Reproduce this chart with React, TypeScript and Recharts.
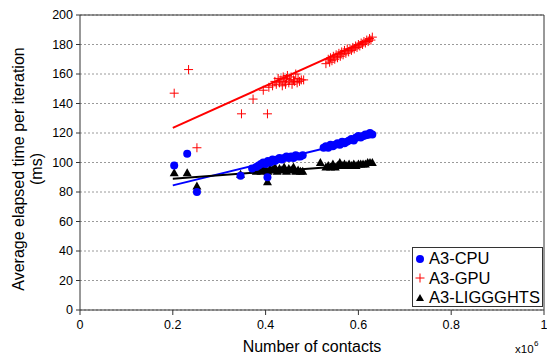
import React from "react"
import {
  ComposedChart,
  Scatter,
  Line,
  XAxis,
  YAxis,
  CartesianGrid,
  ReferenceLine,
} from "recharts"

const X_TICKS = [0, 0.2, 0.4, 0.6, 0.8, 1]
const Y_TICKS = [0, 20, 40, 60, 80, 100, 120, 140, 160, 180, 200]

// contacts (x10^6) vs elapsed time (ms)
const cpuPoints: [number, number][] = [
  [0.203, 98], [0.231, 106], [0.252, 80], [0.346, 91], [0.371, 96], [0.404, 90],
  [0.38, 97], [0.385, 98], [0.39, 99], [0.395, 100], [0.4, 99], [0.405, 101], [0.41, 100],
  [0.415, 102], [0.42, 101], [0.425, 102], [0.43, 103], [0.435, 102], [0.44, 103], [0.445, 104],
  [0.45, 103], [0.455, 104], [0.46, 103], [0.465, 105], [0.47, 104], [0.475, 104], [0.48, 105],
  [0.525, 110], [0.53, 111], [0.535, 110], [0.54, 112], [0.545, 111], [0.55, 112], [0.555, 113],
  [0.56, 112], [0.565, 114], [0.57, 113], [0.575, 114], [0.58, 115], [0.585, 116], [0.59, 115],
  [0.595, 117], [0.6, 118], [0.605, 117], [0.61, 118], [0.615, 119], [0.62, 119], [0.625, 120],
  [0.63, 119],
]

const gpuPoints: [number, number][] = [
  [0.203, 147], [0.234, 163], [0.252, 110], [0.348, 133], [0.373, 143], [0.395, 149],
  [0.404, 133], [0.407, 151],
  [0.415, 152], [0.42, 155], [0.423, 153], [0.427, 157], [0.43, 154], [0.433, 156], [0.436, 152],
  [0.438, 158], [0.44, 155], [0.443, 153], [0.445, 157], [0.447, 159], [0.45, 154], [0.452, 156],
  [0.455, 158], [0.457, 153], [0.46, 156], [0.462, 155], [0.465, 160], [0.468, 154], [0.47, 157],
  [0.473, 155], [0.477, 156], [0.482, 156],
  [0.53, 167], [0.535, 170], [0.538, 168], [0.54, 171], [0.543, 169], [0.546, 172], [0.549, 170],
  [0.552, 173], [0.555, 171], [0.558, 174], [0.561, 172], [0.564, 175], [0.567, 173], [0.57, 176],
  [0.573, 174], [0.576, 177], [0.579, 175], [0.582, 177], [0.585, 176], [0.588, 178], [0.591, 177],
  [0.594, 179], [0.597, 178], [0.6, 180], [0.603, 179], [0.606, 181], [0.609, 180], [0.612, 182],
  [0.615, 181], [0.618, 183], [0.621, 182], [0.624, 184], [0.627, 183], [0.63, 185],
]

const ligPoints: [number, number][] = [
  [0.203, 93], [0.231, 93], [0.252, 84], [0.346, 92], [0.373, 95], [0.404, 87],
  [0.38, 94], [0.385, 96], [0.39, 94], [0.395, 97], [0.4, 95], [0.405, 94], [0.41, 96],
  [0.415, 95], [0.42, 97], [0.425, 94], [0.43, 96], [0.435, 95], [0.44, 97], [0.445, 94],
  [0.45, 96], [0.455, 95], [0.46, 97], [0.465, 94], [0.47, 95], [0.475, 94], [0.48, 94],
  [0.518, 100],
  [0.53, 97], [0.535, 98], [0.54, 97], [0.545, 99], [0.55, 97], [0.555, 98], [0.56, 100],
  [0.565, 98], [0.57, 99], [0.575, 98], [0.58, 99], [0.585, 98], [0.59, 99], [0.595, 98],
  [0.6, 99], [0.605, 99], [0.61, 99], [0.615, 99], [0.62, 100], [0.625, 100], [0.63, 100],
]

// linear trend lines (endpoints)
const cpuTrend: [number, number][] = [[0.2, 84.5], [0.63, 117.5]]
const gpuTrend: [number, number][] = [[0.2, 123.5], [0.63, 184.5]]
const ligTrend: [number, number][] = [[0.2, 89], [0.63, 99]]

const toRows = (pts: [number, number][]) => pts.map(([x, y]) => ({ x, y }))

const FONT = "'Liberation Sans', Arial, sans-serif"

const CircleDot = (p: any) => <circle cx={p.cx} cy={p.cy} r={4} fill="#0000ff" />
const PlusDot = (p: any) => (
  <path
    d={`M${p.cx - 4.5},${p.cy}H${p.cx + 4.5}M${p.cx},${p.cy - 4.5}V${p.cy + 4.5}`}
    stroke="#ff0000"
    strokeWidth={1}
    fill="none"
  />
)
const TriDot = (p: any) => (
  <polygon points={`${p.cx},${p.cy - 4.5} ${p.cx + 4.5},${p.cy + 3.5} ${p.cx - 4.5},${p.cy + 3.5}`} fill="#000" />
)

const YLabel = () => (
  <g transform="translate(24,169) rotate(-90)" fill="#000" style={{ fontFamily: FONT, fontSize: 16 }}>
    <text textAnchor="middle" x={0} y={0}>Average elapsed time per iteration</text>
    <text textAnchor="middle" x={0} y={18}>(ms)</text>
  </g>
)

const XLabel = () => (
  <g fill="#000" style={{ fontFamily: FONT }}>
    <text x={312} y={352} textAnchor="middle" style={{ fontSize: 16 }}>Number of contacts</text>
    <text x={515} y={353} style={{ fontSize: 11.5 }}>x10</text>
    <text x={534} y={346} style={{ fontSize: 8 }}>6</text>
  </g>
)

const legendItems = [
  { name: "A3-CPU", icon: <circle cx={6} cy={6} r={4} fill="#0000ff" /> },
  { name: "A3-GPU", icon: <path d="M1.5,6H10.5M6,1.5V10.5" stroke="#ff0000" strokeWidth={1} /> },
  { name: "A3-LIGGGHTS", icon: <polygon points="6,2 10,9 2,9" fill="#000" /> },
]

export default function App() {
  return (
    <div style={{ position: "absolute", left: 0, top: 0, width: 547, height: 356, background: "#fff" }}>
      <ComposedChart width={547} height={356} margin={{ top: 15, right: 3, bottom: 0, left: 0 }}>
        <CartesianGrid vertical={false} stroke="#9a9a9a" strokeDasharray="2 2" />
        <XAxis
          type="number"
          dataKey="x"
          domain={[0, 1]}
          ticks={X_TICKS}
          height={46}
          tickSize={5}
          tickMargin={5}
          stroke="#333"
          tick={{ fill: "#000", fontSize: 12.5, fontFamily: FONT }}
          label={{ content: () => <XLabel /> }}
        />
        <YAxis
          type="number"
          dataKey="y"
          domain={[0, 200]}
          ticks={Y_TICKS}
          width={80}
          tickSize={4}
          tickMargin={3}
          stroke="#333"
          tick={{ fill: "#000", fontSize: 12.5, fontFamily: FONT }}
          label={{ content: () => <YLabel /> }}
        />
        <ReferenceLine y={200} stroke="#333" />
        <ReferenceLine x={1} stroke="#333" />
        <Scatter data={toRows(ligPoints)} shape={TriDot} isAnimationActive={false} />
        <Scatter data={toRows(cpuPoints)} shape={CircleDot} isAnimationActive={false} />
        <Scatter data={toRows(gpuPoints)} shape={PlusDot} isAnimationActive={false} />
        <Line data={toRows(gpuTrend)} dataKey="y" type="linear" stroke="#ff0000" strokeWidth={2} dot={false} isAnimationActive={false} />
        <Line data={toRows(cpuTrend)} dataKey="y" type="linear" stroke="#0000ff" strokeWidth={2} dot={false} isAnimationActive={false} />
        <Line data={toRows(ligTrend)} dataKey="y" type="linear" stroke="#000" strokeWidth={2} dot={false} isAnimationActive={false} />
      </ComposedChart>
      <div
        style={{
          position: "absolute",
          left: 412,
          top: 247,
          width: 131,
          height: 60,
          boxSizing: "border-box",
          border: "1px solid #333",
          background: "#fff",
          fontFamily: FONT,
          fontSize: 16.5,
          paddingTop: 1,
        }}
      >
        {legendItems.map((it) => (
          <div key={it.name} style={{ display: "flex", alignItems: "center", height: 19.5, whiteSpace: "nowrap" }}>
            <svg width={12} height={12} style={{ marginLeft: 1, marginRight: 3 }}>
              {it.icon}
            </svg>
            <span>{it.name}</span>
          </div>
        ))}
      </div>
    </div>
  )
}
